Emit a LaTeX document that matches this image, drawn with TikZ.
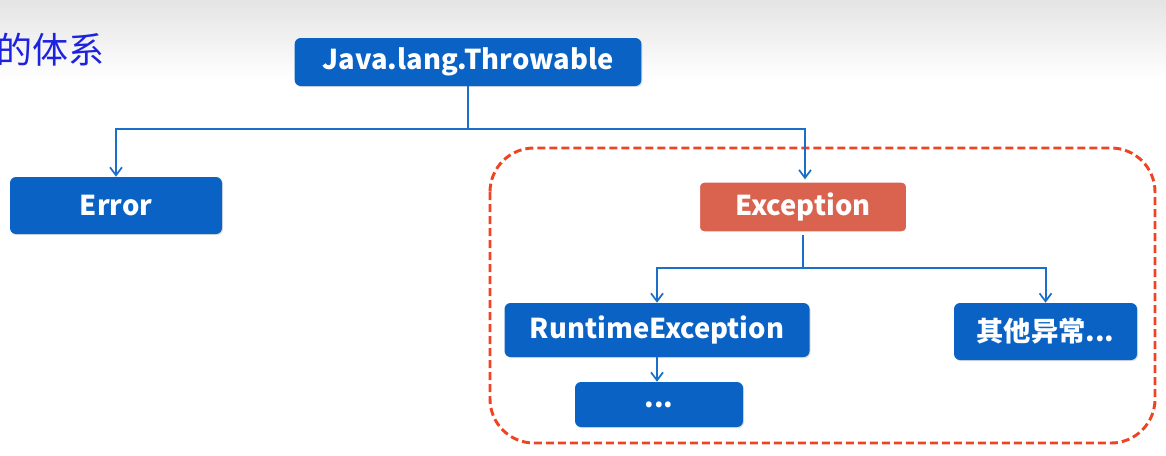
\documentclass[tikz,border=0pt]{standalone}
\usepackage{fontspec}
\setmainfont{Noto Sans CJK SC}
\usetikzlibrary{arrows.meta,positioning,shadows}
\definecolor{jvblue}{HTML}{0A62C4}
\definecolor{jvline}{HTML}{1A6FC8}
\definecolor{jvred}{HTML}{D9634F}
\definecolor{jvdash}{HTML}{EE4422}
\definecolor{jvtitle}{HTML}{1C22E0}
\definecolor{jvtop}{HTML}{E4E4E4}

\begin{document}
\begin{tikzpicture}[
    x=0.75pt,y=-0.75pt,
    box/.style={rounded corners=4.5pt,fill=jvblue,text=white,inner sep=0pt,
      font=\bfseries\fontsize{20.5}{24}\selectfont,
      drop shadow={opacity=0.25,shadow xshift=0.8pt,shadow yshift=-0.8pt}},
    redbox/.style={box,fill=jvred,draw=white,line width=2.5pt},
    link/.style={line width=1.5pt,draw=jvline},
    flow/.style={link,-{Straight Barb[length=6pt,width=9pt,line width=1.3pt]}}
  ]
    \clip (0,0) rectangle (1166,455);
    \shade[top color=jvtop,bottom color=white] (0,0) rectangle (1166,80);
    \node[anchor=west,inner sep=0pt,text=jvtitle,font=\fontsize{27}{30}\selectfont] (title) at (-4,50) {的体系};
    % group of exceptions
    \draw[jvdash,line width=2.2pt,dash pattern=on 6pt off 3pt,rounded corners=33pt]
      (490,148) rectangle (1155,443);
    % classes
    \node[box,minimum width=260pt,minimum height=36pt] (thr) at (468,62) {Java.lang.Throwable};
    \node[box,minimum width=159pt,minimum height=42.75pt] (err) at (116,205.5) {Error};
    \node[redbox,minimum width=157pt,minimum height=39pt] (exc) at (803,207) {Exception};
    \node[box,minimum width=228.75pt,minimum height=40.5pt] (rte) at (657,330) {RuntimeException};
    \node[box,minimum width=137.25pt,minimum height=42.75pt] (oth) at (1045.5,331.5) {其他异常...};
    \node[box,minimum width=126pt,minimum height=33.75pt] (more) at (659,404.5) {...};
    % hierarchy
    \coordinate (tj) at (468,129);
    \coordinate (ej) at (803,268);
    \draw[link] (thr.south) -- (tj);
    \draw[flow] (tj) -| (err.north);
    \draw[flow] (tj) -| ([xshift=1.5pt]exc.north);
    \draw[link] (exc.south) -- (ej);
    \draw[flow] (ej) -| (rte.north);
    \draw[flow] (ej) -| (oth.north);
    \draw[flow] (rte.south) -- (rte.south |- more.north);
  \end{tikzpicture}
\end{document}
